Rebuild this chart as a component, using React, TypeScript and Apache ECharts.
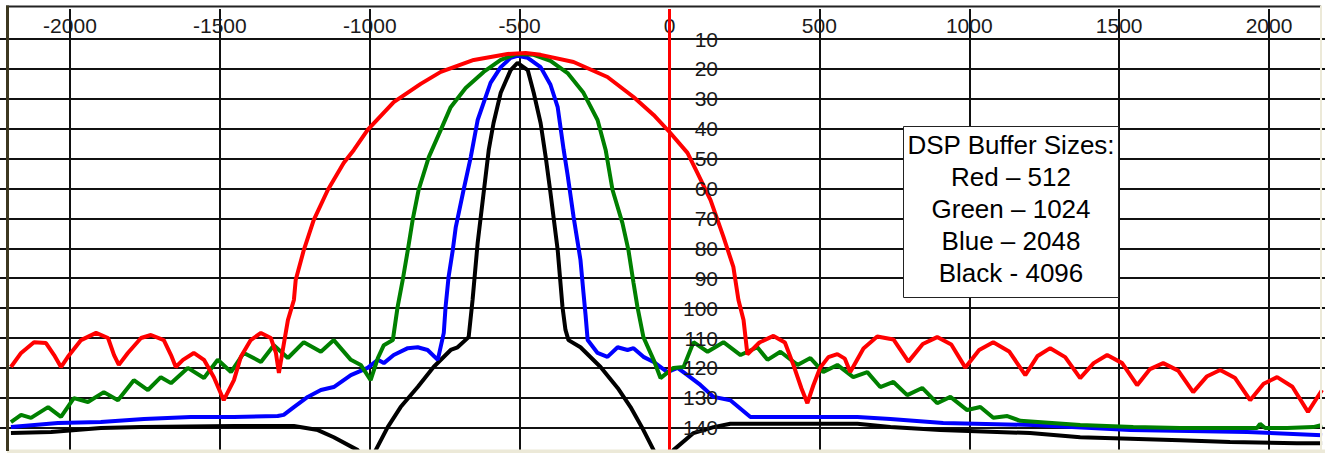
import React, { useEffect, useRef } from "react";
import * as echarts from "echarts";

// Frequency offset (Hz) vs level (dB, drawn downward)
const RED_512: [number, number][] = [
  [-2197, 119.7], [-2163, 115.0], [-2120, 111.4], [-2080, 111.7], [-2053, 115.7], [-2030, 119.7],
  [-2007, 116.3], [-1963, 110.7], [-1913, 108.3], [-1873, 110.0], [-1853, 115.7], [-1837, 119.0],
  [-1807, 115.0], [-1763, 110.0], [-1730, 109.0], [-1687, 110.7], [-1663, 115.7], [-1647, 119.7],
  [-1623, 117.3], [-1587, 115.0], [-1553, 117.3], [-1520, 123.1], [-1487, 130.8], [-1453, 124.1],
  [-1430, 116.3], [-1397, 110.7], [-1363, 108.3], [-1330, 110.0], [-1313, 115.0], [-1303, 121.7],
  [-1290, 114.0], [-1273, 104.0], [-1253, 97.3], [-1247, 90.6], [-1220, 80.6], [-1187, 70.6],
  [-1140, 60.5], [-1087, 51.5], [-1053, 47.1], [-1007, 40.4], [-920, 31.1], [-830, 25.0],
  [-763, 21.0], [-653, 17.0], [-540, 15.0], [-480, 14.7], [-430, 15.3], [-320, 17.7],
  [-207, 22.7], [-120, 29.4], [-53, 35.4], [0, 41.1], [60, 48.1], [93, 54.8], [137, 63.9],
  [180, 76.2], [213, 86.2], [230, 97.3], [247, 104.0], [260, 115.5], [300, 111.5], [347, 109.3],
  [385, 111.5], [413, 118.9], [440, 126.8], [460, 131.8], [480, 125.8], [503, 119.9], [530, 116.4],
  [560, 115.4], [585, 116.9], [603, 121.4], [647, 113.5], [693, 109.5], [747, 110.5], [797, 117.9],
  [845, 112.0], [893, 109.7], [940, 112.2], [987, 119.9], [1033, 114.0], [1080, 111.4], [1133, 114.5],
  [1187, 122.4], [1228, 116.0], [1270, 113.4], [1320, 116.4], [1370, 123.4], [1415, 118.4],
  [1460, 115.7], [1510, 118.4], [1560, 125.8], [1603, 120.4], [1647, 118.4], [1697, 120.9],
  [1747, 128.1], [1792, 122.9], [1837, 120.7], [1887, 123.4], [1937, 130.8], [1982, 125.3],
  [2027, 123.1], [2078, 126.3], [2130, 134.7], [2177, 127.4],
];

const GREEN_1024: [number, number][] = [
  [-2197, 138.1], [-2163, 135.7], [-2130, 136.7], [-2073, 133.1], [-2030, 136.4], [-1987, 130.1],
  [-1940, 131.4], [-1887, 128.1], [-1840, 130.8], [-1787, 124.1], [-1740, 127.4], [-1697, 123.1],
  [-1663, 125.1], [-1607, 120.0], [-1553, 123.4], [-1507, 117.3], [-1463, 121.4], [-1420, 115.0],
  [-1363, 118.0], [-1320, 112.4], [-1273, 116.7], [-1220, 111.4], [-1163, 114.6], [-1120, 110.7],
  [-1063, 117.3], [-1030, 119.0], [-997, 124.1], [-973, 116.7], [-953, 112.4], [-923, 110.7],
  [-907, 99.6], [-890, 90.6], [-873, 80.6], [-857, 70.6], [-837, 60.5], [-803, 49.5], [-763, 40.4],
  [-730, 32.8], [-680, 26.4], [-620, 21.0], [-563, 17.0], [-510, 15.0], [-453, 15.3], [-397, 17.3],
  [-340, 21.4], [-287, 28.0], [-240, 37.1], [-213, 47.1], [-190, 60.5], [-157, 71.6], [-137, 80.6],
  [-120, 91.6], [-107, 99.6], [-87, 109.7], [-53, 117.3], [-30, 123.4], [13, 120.0], [47, 119.7],
  [80, 111.4], [127, 114.6], [180, 111.4], [237, 115.7], [293, 113.1], [327, 117.3], [370, 114.6],
  [427, 119.0], [470, 116.7], [513, 121.4], [560, 119.0], [613, 123.1], [660, 121.4], [703, 126.4],
  [747, 124.7], [793, 129.1], [843, 126.7], [893, 131.8], [937, 129.7], [993, 134.1], [1037, 133.1],
  [1080, 136.7], [1127, 136.1], [1170, 137.7], [1370, 139.1], [1547, 139.8], [1703, 140.1],
  [1960, 140.1], [1970, 138.7], [1987, 140.1], [2060, 140.1], [2147, 139.8], [2177, 139.1],
];

const BLUE_2048: [number, number][] = [
  [-2197, 139.8], [-2040, 138.4], [-1897, 138.1], [-1753, 137.1], [-1597, 136.4], [-1453, 136.4],
  [-1307, 136.1], [-1287, 135.7], [-1253, 133.1], [-1207, 129.7], [-1163, 127.4], [-1120, 126.4],
  [-1063, 122.4], [-1007, 120.0], [-973, 117.3], [-953, 118.4], [-920, 115.7], [-873, 113.4],
  [-840, 113.1], [-807, 114.0], [-773, 117.3], [-753, 108.3], [-747, 99.6], [-737, 89.6],
  [-723, 80.6], [-713, 72.9], [-687, 60.5], [-663, 49.5], [-640, 37.1], [-597, 24.7], [-563, 19.4],
  [-530, 16.3], [-507, 15.6], [-473, 16.3], [-430, 19.4], [-397, 25.3], [-373, 32.8], [-353, 47.1],
  [-340, 55.4], [-320, 69.5], [-297, 83.9], [-287, 94.9], [-280, 102.3], [-273, 110.7], [-240, 115.0],
  [-207, 116.3], [-173, 113.1], [-140, 114.0], [-120, 113.4], [-87, 116.3], [-53, 118.0], [-7, 121.4],
  [27, 120.0], [60, 122.4], [103, 125.7], [147, 129.7], [203, 130.8], [270, 136.4], [627, 136.4],
  [737, 137.1], [913, 138.4], [1213, 139.1], [1537, 140.8], [1927, 141.4], [2177, 142.5],
];

const BLACK_4096: [number, number][] = [
  [-2197, 141.8], [-2063, 141.4], [-1897, 140.1], [-1763, 139.8], [-1453, 139.4], [-1253, 139.4],
  [-1173, 140.8], [-1120, 143.2], [-1040, 147.5], [-1010, 158.0], [-980, 147.5], [-940, 139.8],
  [-897, 133.1], [-840, 126.4], [-787, 119.7], [-730, 114.0], [-707, 113.1], [-670, 109.7],
  [-657, 97.3], [-640, 78.2], [-623, 63.9], [-603, 47.1], [-587, 38.1], [-563, 28.0], [-530, 20.4],
  [-507, 18.0], [-473, 20.4], [-453, 28.0], [-430, 38.1], [-413, 49.5], [-397, 61.5], [-373, 80.6],
  [-357, 99.6], [-347, 107.3], [-337, 110.7], [-297, 113.1], [-230, 119.7], [-173, 126.7],
  [-130, 133.1], [-87, 140.8], [-53, 147.5], [-20, 158.0], [13, 147.5], [80, 141.8], [147, 139.8],
  [203, 138.7], [627, 138.7], [737, 139.8], [903, 140.8], [1203, 141.8], [1370, 143.2],
  [1703, 144.2], [1870, 144.8], [2093, 145.2], [2177, 145.2],
];

const CENTER_MARKER_HZ = [0];
const X_RANGE = [-2500, 2500];
const X_STEP = 500;
const Y_RANGE = [0, 150];
const Y_STEP = 10;

const LEGEND_TITLE = "DSP Buffer Sizes:";
const LEGEND_LINES = ["Red – 512", "Green – 1024", "Blue – 2048", "Black - 4096"];

const FONT = "'Liberation Sans', Arial, sans-serif";

export default function App() {
  const ref = useRef<HTMLDivElement>(null);

  useEffect(() => {
    if (!ref.current) return;
    const chart = echarts.init(ref.current, null, { renderer: "svg" });

    const gridLeft = -79.9;
    const gridTop = 9.1;
    const gridW = 1498.8;
    const gridH = 448.5;

    const mkLine = (name: string, color: string, data: [number, number][], extra: any = {}) => ({
      type: "line",
      name,
      data,
      xAxisIndex: 0,
      yAxisIndex: 0,
      symbol: "none",
      showSymbol: false,
      clip: true,
      lineStyle: { color, width: 4 },
      itemStyle: { color },
      emphasis: { disabled: true },
      silent: true,
      ...extra,
    });

    const legendTexts = [LEGEND_TITLE, ...LEGEND_LINES].map((t, i) => ({
      type: "text",
      z: 101,
      x: 1011,
      y: 145 + i * 32,
      style: {
        text: t,
        fontSize: 26,
        fontFamily: FONT,
        fill: "#000",
        align: "center",
        verticalAlign: "middle",
        textAlign: "center",
        textVerticalAlign: "middle",
      },
    }));

    const plain = (v: number) => String(v);

    chart.setOption({
      animation: false,
      backgroundColor: "#ffffff",
      grid: {
        left: gridLeft,
        top: gridTop,
        width: gridW,
        height: gridH,
        containLabel: false,
        outerBoundsMode: "none",
      },
      xAxis: [
        {
          type: "value",
          position: "top",
          min: X_RANGE[0],
          max: X_RANGE[1],
          interval: X_STEP,
          axisLine: { show: false },
          axisTick: { show: false },
          axisLabel: {
            inside: true,
            margin: 6,
            showMinLabel: false,
            showMaxLabel: false,
            fontSize: 21,
            fontFamily: FONT,
            color: "#1a1a1a",
            formatter: plain,
          },
          splitLine: { show: true, lineStyle: { color: "#111", width: 2 } },
        },
      ],
      yAxis: [
        {
          type: "value",
          inverse: true,
          min: Y_RANGE[0],
          max: Y_RANGE[1],
          interval: Y_STEP,
          axisLine: { show: false },
          axisTick: { show: false },
          axisLabel: { show: false },
          splitLine: { show: true, showMinLine: false, lineStyle: { color: "#111", width: 2 } },
        },
        {
          type: "value",
          inverse: true,
          position: "left",
          offset: gridLeft - 726,
          min: Y_RANGE[0],
          max: Y_RANGE[1],
          interval: Y_STEP,
          z: 10,
          axisLine: { show: false },
          axisTick: { show: false },
          splitLine: { show: false },
          axisLabel: {
            margin: 8,
            showMinLabel: false,
            showMaxLabel: false,
            fontSize: 21,
            fontFamily: FONT,
            color: "#1a1a1a",
            formatter: plain,
          },
        },
      ],
      series: [
        mkLine("Black - 4096", "#000000", BLACK_4096),
        mkLine("Blue - 2048", "#0000ff", BLUE_2048),
        mkLine("Green - 1024", "#008000", GREEN_1024),
        mkLine("Red - 512", "#ff0000", RED_512, {
          markLine: {
            silent: true,
            symbol: ["none", "none"],
            label: { show: false },
            lineStyle: { color: "#ff0000", width: 3, type: "solid" },
            data: CENTER_MARKER_HZ.map((v) => ({ xAxis: v })),
          },
        }),
      ],
      graphic: [
        { type: "line", z: 100, shape: { x1: 6, y1: 6.5, x2: 1321, y2: 6.5 }, style: { stroke: "#222", lineWidth: 2 } },
        { type: "rect", z: 100, shape: { x: 7, y: 449.5, width: 1318, height: 4 }, style: { fill: "#ece9d8" } },
        { type: "rect", z: 100, shape: { x: 1320, y: 5.5, width: 2, height: 448 }, style: { fill: "#ece9d8" } },
        { type: "line", z: 100, shape: { x1: 7.5, y1: 5.5, x2: 7.5, y2: 451 }, style: { stroke: "#3d3820", lineWidth: 3 } },
        {
          type: "rect",
          z: 100,
          shape: { x: 903.5, y: 126.5, width: 215, height: 171 },
          style: { fill: "#ffffff", stroke: "#222", lineWidth: 1 },
        },
        ...legendTexts,
      ],
    });

    return () => {
      chart.dispose();
    };
  }, []);

  return (
    <div
      ref={ref}
      style={{ position: "fixed", left: 0, top: 0, width: 1325, height: 453, background: "#fff" }}
    />
  );
}
